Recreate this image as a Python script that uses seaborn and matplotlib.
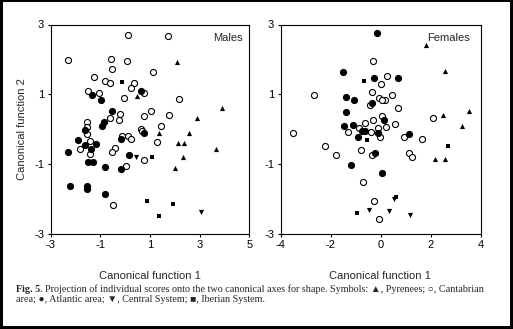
import numpy as np
import pandas as pd
import matplotlib
matplotlib.use("Agg")
import matplotlib.pyplot as plt
import seaborn as sns
from matplotlib.patches import Rectangle

# ---------------- data ----------------
# Males
m_pyr_x = [2.08, 0.47, 3.88, 2.89, 1.35, 2.57, 2.12, 2.37, 3.65, 2.32, 2.01]
m_pyr_y = [1.92, 0.94, 0.61, 0.31, -0.12, -0.11, -0.41, -0.40, -0.58, -0.79, -1.12]
m_can_x = [0.11, 1.71, -2.29, -0.55, 0.07, -0.52, 1.11, -1.24, -0.79, -0.61, 0.37, 0.23,
           -1.49, -1.04, 0.77, -0.05, 2.16, 1.05, -0.21, 0.76, 1.75, -0.59, -0.24, -1.53,
           1.44, 0.64, -1.52, 0.68, -1.52, -0.13, 0.13, 0.23, -1.43, -1.80, -1.43, 1.27,
           -0.40, -0.51, 0.77, 0.05, -0.48]
m_can_y = [2.70, 2.68, 1.97, 2.01, 1.95, 1.73, 1.65, 1.50, 1.37, 1.31, 1.32, 1.17,
           1.08, 1.03, 1.02, 0.88, 0.86, 0.53, 0.42, 0.38, 0.41, 0.31, 0.25, 0.20,
           0.10, 0.00, 0.07, -0.06, -0.15, -0.21, -0.19, -0.30, -0.35, -0.58, -0.71, -0.37,
           -0.54, -0.67, -0.90, -1.06, -2.19]
m_atl_x = [-1.35, -0.97, 0.65, -0.52, -0.85, -0.93, -1.63, 0.75, -0.16, -1.89, -1.60, -1.16,
           -1.37, -2.29, 0.17, -1.49, -1.29, -0.80, -0.15, -2.20, -1.53, -1.52, -0.80]
m_atl_y = [0.99, 0.83, 1.10, 0.51, 0.20, 0.09, -0.02, -0.12, -0.28, -0.33, -0.45, -0.42,
           -0.58, -0.67, -0.75, -0.95, -0.95, -1.09, -1.15, -1.65, -1.63, -1.71, -1.88]
m_cen_x = [0.44, 3.07]
m_cen_y = [-0.81, -2.38]
m_ibe_x = [-0.11, 1.08, 0.88, 1.91, 1.35]
m_ibe_y = [1.36, -0.81, -2.06, -2.14, -2.50]

# Females
f_pyr_x = [1.79, 2.55, 3.52, 2.49, 3.25, 2.17, 2.55]
f_pyr_y = [2.42, 1.67, 0.53, 0.41, 0.10, -0.86, -0.86]
f_can_x = [-0.29, 0.23, 0.01, -2.65, -0.36, 0.45, -0.08, 0.16, 0.03, -0.41, 0.68, 2.07,
           0.04, -0.32, -0.64, 0.56, -0.87, -0.11, 0.21, -1.29, -0.40, -0.01, -3.49, -2.21,
           -1.79, -0.79, -0.35, 0.91, 1.64, 1.13, 1.23, -0.71, -0.27, -0.08]
f_can_y = [1.94, 1.51, 1.29, 0.97, 1.05, 0.99, 0.88, 0.84, 0.84, 0.70, 0.61, 0.32,
           0.36, 0.25, 0.16, 0.14, 0.03, 0.02, 0.05, -0.08, -0.10, -0.22, -0.11, -0.49,
           -0.74, -0.60, -0.75, -0.22, -0.28, -0.68, -0.81, -1.53, -2.06, -2.59]
f_atl_x = [-0.13, -1.49, -0.27, 0.67, -1.37, -1.05, -0.35, -1.37, 0.13, -1.47, -1.09,
           -0.73, -0.63, -0.11, -0.89, -0.23, 1.13, -1.19, 0.05]
f_atl_y = [2.75, 1.65, 1.45, 1.45, 0.92, 0.84, 0.75, 0.49, 0.25, 0.08, 0.12,
           -0.05, -0.05, -0.11, -0.24, -0.69, -0.13, -1.03, -1.25]
f_cen_x = [0.51, -0.45, 0.33, 1.16]
f_cen_y = [-2.02, -2.32, -2.34, -2.46]
f_ibe_x = [-0.67, -0.56, 2.69, 0.60, -0.96]
f_ibe_y = [1.38, -0.31, -0.50, -1.95, -2.40]

groups = ["Pyrenees", "Cantabrian", "Atlantic", "Central System", "Iberian System"]
y_ticks = [-3, -1, 1, 3]
m_xticks = [-3, -1, 1, 3, 5]
f_xticks = [-4, -2, 0, 2, 4]
xlabel = "Canonical function 1"
ylabel = "Canonical function 2"

rows = []
for panel, sets in [("Males", [(m_pyr_x, m_pyr_y), (m_can_x, m_can_y), (m_atl_x, m_atl_y),
                               (m_cen_x, m_cen_y), (m_ibe_x, m_ibe_y)]),
                    ("Females", [(f_pyr_x, f_pyr_y), (f_can_x, f_can_y), (f_atl_x, f_atl_y),
                                 (f_cen_x, f_cen_y), (f_ibe_x, f_ibe_y)])]:
    for g, (xs, ys) in zip(groups, sets):
        for x, y in zip(xs, ys):
            rows.append(dict(panel=panel, group=g, x=x, y=y))
df = pd.DataFrame(rows)

# ---------------- style ----------------
sns.set_style("ticks")
plt.rcParams["font.family"] = ["Liberation Sans", "DejaVu Sans"]
plt.rcParams["axes.linewidth"] = 0.8

W, H = 513, 329
fig = plt.figure(figsize=(W / 100, H / 100), dpi=100)
fig.patch.set_facecolor("white")


def px_axes(x0, x1, y0, y1):
    return [x0 / W, 1 - y1 / H, (x1 - x0) / W, (y1 - y0) / H]


ax_m = fig.add_axes(px_axes(50.5, 249.5, 24.5, 233.5))
ax_f = fig.add_axes(px_axes(280.5, 481, 24.5, 233.5))

style = {
    "Pyrenees": dict(marker="^", s=14, color="black", edgecolor="black", linewidth=0),
    "Cantabrian": dict(marker="o", s=19, color="white", edgecolor="black", linewidth=0.8),
    "Atlantic": dict(marker="o", s=27, color="black", edgecolor="black", linewidth=0),
    "Central System": dict(marker="v", s=14, color="black", edgecolor="black", linewidth=0),
    "Iberian System": dict(marker="s", s=11, color="black", edgecolor="black", linewidth=0),
}

for ax, panel, xt, xlim in [(ax_m, "Males", m_xticks, (-3, 5)), (ax_f, "Females", f_xticks, (-4, 4))]:
    sub = df[df.panel == panel]
    for g in groups:
        d = sub[sub.group == g]
        sns.scatterplot(data=d, x="x", y="y", ax=ax, legend=False, zorder=3, **style[g])
    ax.set_xlim(*xlim)
    ax.set_ylim(-3, 3)
    ax.set_xticks(xt)
    ax.set_yticks(y_ticks)
    ax.set_xticklabels([str(v) for v in xt])
    ax.set_yticklabels([str(v) for v in y_ticks])
    ax.tick_params(direction="out", length=2.5, width=0.8, labelsize=8, pad=2, colors="black")
    for sp in ax.spines.values():
        sp.set_visible(True)
        sp.set_color("black")
        sp.set_linewidth(0.8)
    ax.set_xlabel("")
    ax.set_ylabel("")

ax_m.text(0.965, 0.935, "Males", transform=ax_m.transAxes, ha="right", va="center", fontsize=8)
ax_f.text(0.945, 0.935, "Females", transform=ax_f.transAxes, ha="right", va="center", fontsize=8)

# axis labels
fig.text(150 / W, 1 - 276 / H, xlabel, ha="center", va="center", fontsize=8)
fig.text(380 / W, 1 - 276 / H, xlabel, ha="center", va="center", fontsize=8)
fig.text(22 / W, 1 - 129 / H, ylabel, ha="center", va="center", rotation=90, fontsize=8)

# caption
cap_fam = ["Liberation Serif", "DejaVu Sans"]
cap_fs = 7.3
t_bold = fig.text(16 / W, 1 - 289 / H, "Fig. 5", ha="left", va="center", fontsize=cap_fs,
                  family=cap_fam, weight="bold")
fig.canvas.draw()
bb = t_bold.get_window_extent(renderer=fig.canvas.get_renderer())
x_after = bb.x1 / (W)
fig.text(x_after, 1 - 289 / H,
         ". Projection of individual scores onto the two canonical axes for shape. Symbols: \u25B2, Pyrenees; \u25CB, Cantabrian",
         ha="left", va="center", fontsize=cap_fs, family=cap_fam)
fig.text(16 / W, 1 - 299.5 / H,
         "area; \u25CF, Atlantic area; \u25BC, Central System; \u25A0, Iberian System.",
         ha="left", va="center", fontsize=cap_fs, family=cap_fam)

# black frame around the whole picture
def frame(x, y, w, h):
    fig.add_artist(Rectangle((x / W, 1 - (y + h) / H), w / W, h / H, transform=fig.transFigure,
                             facecolor="black", edgecolor="none", zorder=10))

frame(0, 0, W, 1.5)       # top
frame(0, 0, 3, H)         # left
frame(W - 3, 0, 3, H)     # right
frame(0, H - 3.5, W, 3.5) # bottom

fig.savefig("out.png", dpi=100)
